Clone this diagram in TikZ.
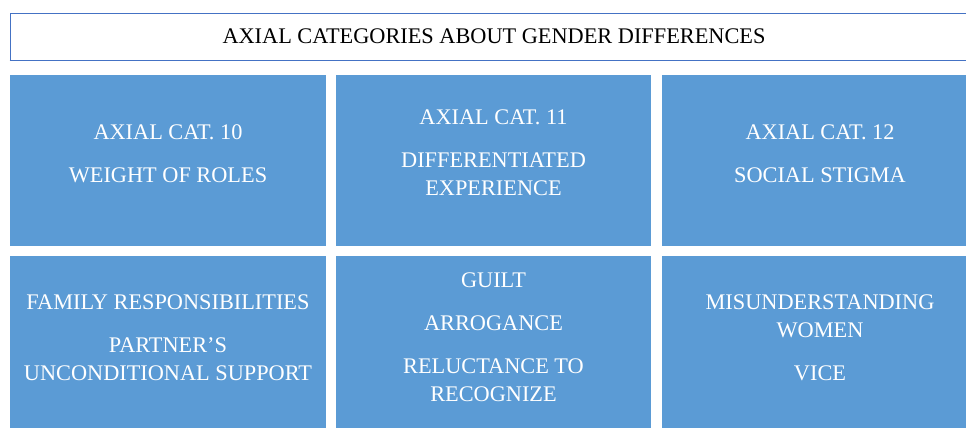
\documentclass[tikz,border=0pt]{standalone}
\usepackage{fontspec}
\setmainfont{Liberation Serif}
\definecolor{axblue}{HTML}{5B9BD5}
\definecolor{axline}{HTML}{4472C4}
\newcommand{\pgap}{\\[8.6pt]}

\tikzset{
  titlebox/.style={draw=axline, line width=0.5pt, fill=white, inner sep=0pt,
    minimum width=19.36cm, minimum height=0.94cm,
    font=\fontsize{12.7}{15.9}\selectfont},
  catbox/.style={fill=axblue, inner sep=0pt, minimum width=6.32cm, minimum height=3.42cm},
  cattext/.style={text=white, align=center, inner sep=0pt,
    font=\fontsize{12.7}{15.9}\selectfont}
}

\begin{document}
\begin{tikzpicture}[x=0.02cm, y=-0.02cm]
\useasboundingbox (0,0) rectangle (966,428);
\clip (0,0) rectangle (966,428);
% heading
\node[titlebox] (title) at (494,36.5) {AXIAL CATEGORIES ABOUT GENDER DIFFERENCES};
\draw[axline, line width=1pt] (title.south west) -- (title.south east);
% upper row: the three axial categories
\node[catbox] (box10) at (168,160.5) {};
\node[catbox] (box11) at (493.5,160.5) {};
\node[catbox] (box12) at (820,160.5) {};
\node[cattext] (cat10) at (168,153.5) {AXIAL CAT. 10\pgap WEIGHT OF ROLES};
\node[cattext] (cat11) at (493.5,153) {AXIAL CAT. 11\pgap DIFFERENTIATED\\EXPERIENCE};
\node[cattext] (cat12) at (820,153.5) {AXIAL CAT. 12\pgap SOCIAL STIGMA};
% lower row: codes under each category (runs off the bottom)
\node[catbox, minimum height=3.6cm] (box20) at (168,346) {};
\node[catbox, minimum height=3.6cm] (box21) at (493.5,346) {};
\node[catbox, minimum height=3.6cm] (box22) at (820,346) {};
\node[cattext] (codes10) at (168,337.5) {FAMILY RESPONSIBILITIES\pgap PARTNER'S\\UNCONDITIONAL SUPPORT};
\node[cattext] (codes11) at (493.5,337.5) {GUILT\pgap ARROGANCE\pgap RELUCTANCE TO\\RECOGNIZE};
\node[cattext] (codes12) at (820,337.5) {MISUNDERSTANDING\\WOMEN\pgap VICE};
\end{tikzpicture}
\end{document}
